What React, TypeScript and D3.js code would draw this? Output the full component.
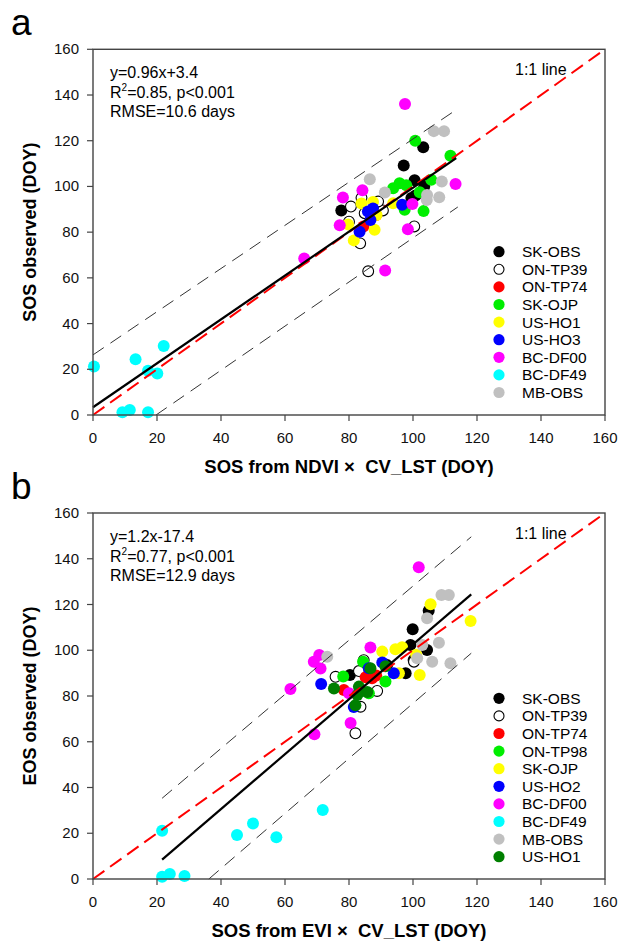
import React from "react";
import * as d3 from "d3";

type Pt = [number, number];

// ---------- Panel a data (SOS) ----------
const A_SK_OBS: Pt[] = [[77.6,89.5],[97.1,109.2],[100.5,102.7],[103.2,117.1],[103.5,100],[99.5,94.9],[100.8,96]];
const A_ON_TP39: Pt[] = [[80.6,91.2],[83.9,95],[80.0,84.6],[83.5,75.1],[86.0,62.9],[90.6,89.5],[89.1,93.4],[84.9,88.3],[100.4,82.5]];
const A_ON_TP74: Pt[] = [[88.5,87.5],[84.5,82.5]];
const A_SK_OJP: Pt[] = [[100.7,120],[111.7,113.4],[93.8,99.2],[95.8,101.4],[97.9,100.5],[105.7,102.9],[103.3,89.2],[97.4,89.8],[102.1,97.5]];
const A_US_HO1: Pt[] = [[83.9,92.5],[87.5,93.2],[79.7,83.4],[81.5,76.4],[88.0,81],[88.6,87.5],[93.8,92.6]];
const A_US_HO3: Pt[] = [[83.3,80.2],[85.9,89],[87.5,90.4],[86.7,85.3],[96.6,92]];
const A_BC_DF00: Pt[] = [[66,68.5],[78.1,95.2],[77.1,83],[84.2,98.3],[97.5,136.1],[91.3,63.2],[98.4,81.3],[99.8,92.3],[113.3,101.1]];
const A_BC_DF49: Pt[] = [[0.3,21.2],[9.2,1.2],[11.5,2.2],[13.3,24.4],[17.2,19.4],[17.2,1.2],[20.1,18.2],[22.1,30.2]];
const A_MB_OBS: Pt[] = [[86.5,103.1],[91.2,97.3],[106.5,124.2],[109.7,124.2],[109,102.2],[104.4,96.3],[108.2,95.3],[104.3,94.1]];

const A_FIT: Pt[] = [[0, 3.4], [113.5, 112.4]];
const A_UPPER: Pt[] = [[0, 26.3], [114, 134]];
const A_LOWER: Pt[] = [[19.7, 0], [114, 91]];
const A_TEXT = ["y=0.96x+3.4", "=0.85, p<0.001", "RMSE=10.6 days"];

// ---------- Panel b data (EOS) ----------
const B_SK_OBS: Pt[] = [[99.9,109.2],[104.9,117.3],[99.2,102.3],[104.4,100.1],[100.2,95.7],[97.7,89.9],[80.3,89.2],[91.9,93.5]];
const B_ON_TP39: Pt[] = [[82,63.7],[75.8,88.4],[83.1,90.9],[88.8,82.2],[83.6,75.3],[100.3,95],[84.6,95.7]];
const B_ON_TP74: Pt[] = [[85.2,88.2],[87.2,87.8],[78.4,82.6],[88.5,89]];
const B_ON_TP98: Pt[] = [[78.2,88.5],[84.4,95],[91.4,86.3],[86.2,81.2]];
const B_SK_OJP: Pt[] = [[105.5,120.1],[118,112.8],[90.4,99.4],[94.5,100.4],[96.6,101.3],[102.1,89.2],[101,98],[95.6,89.9]];
const B_US_HO2: Pt[] = [[71.3,85.2],[81.5,75.2],[86.2,92.1],[90.4,94.6],[94,89.9]];
const B_BC_DF00: Pt[] = [[61.7,83.1],[69.2,63.3],[69,95],[70.7,97.9],[71.1,92],[80.5,68.2],[86.7,101.2],[101.8,136.3],[80,81.2]];
const B_BC_DF49: Pt[] = [[21.6,21.1],[21.6,1.0],[24,2.2],[28.6,1.3],[45,19.2],[50,24.3],[57.3,18.2],[71.8,30.2]];
const B_MB_OBS: Pt[] = [[73.2,97.2],[108.9,124.2],[111.2,124.2],[104.4,114],[108.1,103.3],[106,95],[111.7,94.3],[101.3,96.5],[102.9,102.3]];
const B_US_HO1: Pt[] = [[75.3,83.3],[82,76],[83.1,84.1],[85.7,81.7],[86.7,92.1],[91.4,93],[82.6,80.4]];

const B_FIT: Pt[] = [[21.6, 8.5], [118.2, 124.4]];
const B_UPPER: Pt[] = [[21.6, 35.3], [118.2, 149.6]];
const B_LOWER: Pt[] = [[36.2, 0], [118.2, 98.7]];
const B_TEXT = ["y=1.2x-17.4", "=0.77, p<0.001", "RMSE=12.9 days"];

const TICKS = [0, 20, 40, 60, 80, 100, 120, 140, 160];
const ONE_TO_ONE: Pt[] = [[0, 0], [160, 160]];

interface Series { name: string; fill: string; open?: boolean; data: Pt[] }

const SERIES_A: Series[] = [
  { name: "SK-OBS", fill: "#000000", data: A_SK_OBS },
  { name: "ON-TP39", fill: "#ffffff", open: true, data: A_ON_TP39 },
  { name: "ON-TP74", fill: "#ff0000", data: A_ON_TP74 },
  { name: "SK-OJP", fill: "#00ee00", data: A_SK_OJP },
  { name: "US-HO1", fill: "#ffff00", data: A_US_HO1 },
  { name: "US-HO3", fill: "#0000ff", data: A_US_HO3 },
  { name: "BC-DF00", fill: "#ff00ff", data: A_BC_DF00 },
  { name: "BC-DF49", fill: "#00ffff", data: A_BC_DF49 },
  { name: "MB-OBS", fill: "#c0c0c0", data: A_MB_OBS },
];

const SERIES_B: Series[] = [
  { name: "SK-OBS", fill: "#000000", data: B_SK_OBS },
  { name: "ON-TP39", fill: "#ffffff", open: true, data: B_ON_TP39 },
  { name: "ON-TP74", fill: "#ff0000", data: B_ON_TP74 },
  { name: "ON-TP98", fill: "#00ee00", data: B_ON_TP98 },
  { name: "SK-OJP", fill: "#ffff00", data: B_SK_OJP },
  { name: "US-HO2", fill: "#0000ff", data: B_US_HO2 },
  { name: "BC-DF00", fill: "#ff00ff", data: B_BC_DF00 },
  { name: "BC-DF49", fill: "#00ffff", data: B_BC_DF49 },
  { name: "MB-OBS", fill: "#c0c0c0", data: B_MB_OBS },
  { name: "US-HO1", fill: "#007f00", data: B_US_HO1 },
];

const FONT = "Arial, 'Liberation Sans', sans-serif";

interface PanelProps {
  top: number; bottom: number; letter: string; series: Series[];
  fit: Pt[]; upper: Pt[]; lower: Pt[]; text: string[];
  xTitle: string; yTitle: string; legendY: number;
}

function Panel(p: PanelProps) {
  const left = 93, right = 605;
  const x = d3.scaleLinear().domain([0, 160]).range([left, right]);
  const y = d3.scaleLinear().domain([0, 160]).range([p.bottom, p.top]);
  const line = d3.line<Pt>().x(d => x(d[0])).y(d => y(d[1]));
  const textTop = p.top;
  return (
    <g>
      <text x={11} y={p.top - 14} fontSize={37} fontFamily={FONT}>{p.letter}</text>
      {/* points */}
      {p.series.map(s => (
        <g key={s.name}>
          {s.data.map((d, i) => (
            <circle key={i} cx={x(d[0])} cy={y(d[1])} r={s.open ? 5.4 : 6}
              fill={s.fill} stroke={s.open ? "#000" : "none"} strokeWidth={s.open ? 1.1 : 0} />
          ))}
        </g>
      ))}
      {/* lines */}
      <path d={line(p.upper) || ""} stroke="#333" strokeWidth={1} strokeDasharray="13,8" fill="none" />
      <path d={line(p.lower) || ""} stroke="#333" strokeWidth={1} strokeDasharray="13,8" fill="none" />
      <path d={line(ONE_TO_ONE) || ""} stroke="#ff0000" strokeWidth={2} strokeDasharray="14,7" fill="none" />
      <path d={line(p.fit) || ""} stroke="#000" strokeWidth={2.2} fill="none" />
      {/* frame */}
      <rect x={left} y={p.top} width={right - left} height={p.bottom - p.top} fill="none" stroke="#444" strokeWidth={1.4} />
      {/* y ticks */}
      {TICKS.map(t => (
        <g key={"y" + t}>
          <line x1={left - 6} x2={left} y1={y(t)} y2={y(t)} stroke="#444" strokeWidth={1.2} />
          <text x={left - 14} y={y(t) + 5} fontSize={15} textAnchor="end" fontFamily={FONT} fill="#111">{t}</text>
        </g>
      ))}
      {/* x ticks */}
      {TICKS.map(t => (
        <g key={"x" + t}>
          <line x1={x(t)} x2={x(t)} y1={p.bottom} y2={p.bottom + 6} stroke="#444" strokeWidth={1.2} />
          <text x={x(t)} y={p.bottom + 28} fontSize={15} textAnchor="middle" fontFamily={FONT} fill="#111">{t}</text>
        </g>
      ))}
      {/* annotation */}
      <text x={110} y={textTop + 28.5} fontSize={16} fontFamily={FONT}>{p.text[0]}</text>
      <text x={110} y={textTop + 48.5} fontSize={16} fontFamily={FONT}>R<tspan fontSize={10} dy={-7}>2</tspan><tspan dy={7}>{p.text[1]}</tspan></text>
      <text x={110} y={textTop + 68} fontSize={16} fontFamily={FONT}>{p.text[2]}</text>
      <text x={515} y={textTop + 26} fontSize={16} fontFamily={FONT}>1:1 line</text>
      {/* legend */}
      {p.series.map((s, i) => (
        <g key={"l" + s.name}>
          <circle cx={499} cy={p.legendY + i * 17.6} r={s.open ? 5 : 5.6} fill={s.fill}
            stroke={s.open ? "#000" : "none"} strokeWidth={s.open ? 1.1 : 0} />
          <text x={522} y={p.legendY + i * 17.6 + 5.5} fontSize={15.5} fontFamily={FONT}>{s.name}</text>
        </g>
      ))}
      {/* axis titles */}
      <text x={(left + right) / 2} y={p.bottom + 58} fontSize={18.5} fontWeight="bold" textAnchor="middle" fontFamily={FONT}>{p.xTitle}</text>
      <text transform={`translate(36,${(p.top + p.bottom) / 2}) rotate(-90)`} fontSize={18} fontWeight="bold" textAnchor="middle" fontFamily={FONT}>{p.yTitle}</text>
    </g>
  );
}

export default function App() {
  return (
    <div style={{ position: "absolute", left: 0, top: 0 }}>
      <svg width={635} height={947} viewBox="0 0 635 947" style={{ display: "block", background: "#fff" }}>
        <Panel top={49.3} bottom={415} letter="a" series={SERIES_A} fit={A_FIT} upper={A_UPPER} lower={A_LOWER}
          text={A_TEXT} xTitle={"SOS from NDVI \u00d7\u00a0 CV_LST (DOY)"} yTitle="SOS observed (DOY)" legendY={251.7} />
        <Panel top={513} bottom={879} letter="b" series={SERIES_B} fit={B_FIT} upper={B_UPPER} lower={B_LOWER}
          text={B_TEXT} xTitle={"SOS from EVI \u00d7\u00a0 CV_LST (DOY)"} yTitle="EOS observed (DOY)" legendY={698.3} />
      </svg>
    </div>
  );
}
